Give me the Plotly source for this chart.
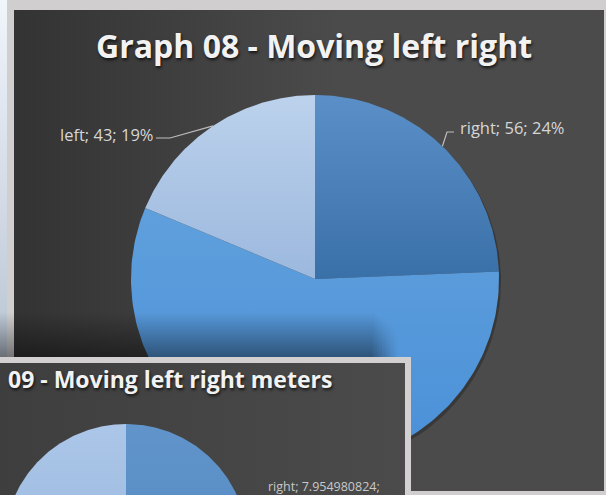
import numpy as np
import plotly.graph_objects as go

W, H = 606, 495

# Graph 08 – counts per movement direction (clockwise from 12 o'clock)
main_title = "Graph 08 - Moving left right"
main_names = ["right", "center", "left"]
main_values = [56, 131, 43]

# Graph 09 – distance in meters per movement direction (panel shifted off the left edge)
lower_title = "09 - Moving left right meters"
lower_names = ["right", "center", "left"]
lower_values = [7.954980824, 7.6, 5.4]

# slice fills: (top colour, bottom colour)
main_colors = [("#5b8fc7", "#3a70a8"), ("#5f9fdc", "#4a90d8"), ("#bcd2ec", "#9cb8de")]
lower_colors = [("#6094cb", "#5286bf"), ("#5f9fdc", "#4a90d8"), ("#abc6e8", "#9dbadf")]

fig = go.Figure()


def vgrad(c0, c1, y0, y1):
    return dict(type="vertical", colorscale=[[0, c0], [1, c1]], start=y0, stop=y1)


def hgrad(stops, x0, x1):
    return dict(type="horizontal", colorscale=stops, start=x0, stop=x1)


def polygon(xs, ys, color=None, grad=None):
    kw = dict(x=list(xs), y=list(ys), mode="lines", fill="toself",
              hoverinfo="skip", line=dict(width=0, color="rgba(0,0,0,0)"))
    if grad is not None:
        kw["fillgradient"] = grad
        kw["fillcolor"] = "rgba(0,0,0,0)"
    else:
        kw["fillcolor"] = color
    fig.add_trace(go.Scatter(**kw))


def rect(x0, y0, x1, y1, color=None, grad=None):
    polygon([x0, x1, x1, x0, x0], [y0, y0, y1, y1, y0], color, grad)


def arc_point(cx, cy, r, ang):
    a = np.radians(ang)
    return cx + r * np.sin(a), cy - r * np.cos(a)


def wedge(cx, cy, r, a0, a1, n=160):
    t = np.radians(np.linspace(a0, a1, n))
    xs = np.concatenate([[cx], cx + r * np.sin(t), [cx]])
    ys = np.concatenate([[cy], cy - r * np.cos(t), [cy]])
    return xs, ys


def slice_angles(values):
    v = np.asarray(values, dtype=float)
    edges = np.concatenate([[0.0], np.cumsum(v) / v.sum() * 360.0])
    return edges[:-1], edges[1:], v / v.sum()


def draw_pie(cx, cy, r, values, colors):
    a0s, a1s, shares = slice_angles(values)
    for a0, a1, (c_top, c_bot) in zip(a0s, a1s, colors):
        xs, ys = wedge(cx, cy, r, a0, a1)
        polygon(xs, ys, grad=vgrad(c_top, c_bot, ys.min(), ys.max()))
    return a0s, a1s, shares


# ---- page backdrop strip on the far left
rect(0, 0, 8, H, grad=vgrad("#f1f5fc", "#b9c5d3", 0, 360))

# ---- Graph 08 panel
rect(7, -2, W + 2, H + 2, color="#d0cece")
rect(14, 10, 604, 491, grad=hgrad([[0, "#333333"], [0.55, "#4b4b4b"], [1, "#4b4b4b"]], 14, 604))

CX, CY, R = 315, 279, 184
# soft drop shadow under the pie
sx, sy = wedge(CX + 1.5, CY + 2.5, R + 0.5, 0, 360)
polygon(sx, sy, color="rgba(0,0,0,0.25)")
a0s, a1s, shares = draw_pie(CX, CY, R, main_values, main_colors)

# leader lines from slice mid-angles to their labels
lead = {"right": [(447, 132), (454, 132)], "left": [(170, 138), (156, 138)]}
for name, a0, a1 in zip(main_names, a0s, a1s):
    if name in lead:
        px, py = arc_point(CX, CY, R, (a0 + a1) / 2)
        pts = [(px, py)] + lead[name]
        fig.add_trace(go.Scatter(x=[p[0] for p in pts], y=[p[1] for p in pts], mode="lines",
                                 hoverinfo="skip", line=dict(color="#bdbdbd", width=1.2)))

# ---- soft shadow cast by the Graph 09 panel, fading out at its right end
SH_TOP, SH_BOT = 312, 358
rect(-5, SH_TOP, 372, SH_BOT, grad=vgrad("rgba(0,0,0,0)", "rgba(0,0,0,0.45)", SH_TOP, SH_BOT))
steps = 10
for i in range(steps):
    x0 = 372 + i * 2.6
    alpha = 0.45 * (1 - (i + 0.5) / steps)
    rect(x0, SH_TOP + i * 1.5, x0 + 2.6, SH_BOT,
         grad=vgrad("rgba(0,0,0,0)", f"rgba(0,0,0,{alpha:.3f})", SH_TOP + i * 1.5, SH_BOT))

# ---- Graph 09 panel
rect(-5, 357, 411, H + 5, color="#d2d0d0")
rect(-5, 363, 405, H + 5, grad=hgrad([[0, "#3e3e3e"], [1, "#4b4b4b"]], -5, 405))

LX, LY, LR = 126, 546, 122
la0s, la1s, lshares = draw_pie(LX, LY, LR, lower_values, lower_colors)

# ---- text
title_shadow = "1px 2px 3px rgba(0,0,0,0.7)"
annotations = [
    dict(x=314, y=45, text=main_title, xanchor="center", yanchor="middle",
         font=dict(family="Open Sans", size=32, color="#f2f2f2", weight="bold", shadow=title_shadow)),
    dict(x=6, y=379, text=lower_title, xanchor="left", yanchor="middle",
         font=dict(family="Open Sans", size=23, color="#f2f2f2", weight="bold", shadow=title_shadow)),
]
label_pos = {"right": (458, 127, "left"), "left": (155, 134, "right")}
for name, v, s in zip(main_names, main_values, shares):
    if name in label_pos:
        x, y, anc = label_pos[name]
        annotations.append(dict(x=x, y=y, text=f"{name}; {v}; {round(s * 100)}%",
                                xanchor=anc, yanchor="middle",
                                font=dict(family="Open Sans", size=16.5, color="#d6d6d6")))
annotations.append(dict(x=266, y=486, text=f"{lower_names[0]}; {lower_values[0]};",
                        xanchor="left", yanchor="middle",
                        font=dict(family="Open Sans", size=12.5, color="#c8c8c8")))
for a in annotations:
    a.update(xref="x", yref="y", showarrow=False)

fig.update_layout(
    width=W, height=H, margin=dict(l=0, r=0, t=0, b=0),
    paper_bgcolor="#eef3fb", plot_bgcolor="rgba(0,0,0,0)",
    showlegend=False, annotations=annotations,
    xaxis=dict(range=[0, W], visible=False, fixedrange=True),
    yaxis=dict(range=[H, 0], visible=False, fixedrange=True),
)

fig.write_html("out.html")
